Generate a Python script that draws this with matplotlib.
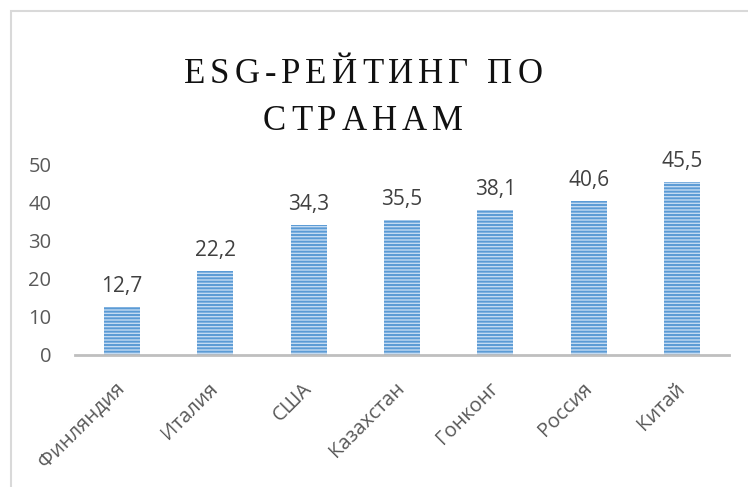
import matplotlib
matplotlib.use("Agg")
import matplotlib.pyplot as plt
from matplotlib.font_manager import FontProperties
from matplotlib.patches import Rectangle

countries = ["Финляндия", "Италия", "США", "Казахстан", "Гонконг", "Россия", "Китай"]
scores = [12.7, 22.2, 34.3, 35.5, 38.1, 40.6, 45.5]
score_labels = ["12,7", "22,2", "34,3", "35,5", "38,1", "40,6", "45,5"]
title_lines = ["ESG-РЕЙТИНГ ПО", "СТРАНАМ"]
yticks = [0, 10, 20, 30, 40, 50]

W, H = 748, 487
plt.rcParams['hatch.linewidth'] = 1.4

fig = plt.figure(figsize=(W / 100, H / 100), dpi=100)
ax = fig.add_axes([75 / W, 1 - 355 / H, 654 / W, 190 / H])

ax.bar(range(len(countries)), scores, width=0.385, color='#c4dbf2',
       edgecolor='#5b9bd5', linewidth=0, hatch='-----', zorder=2)

for i, (v, lab) in enumerate(zip(scores, score_labels)):
    ax.annotate(lab, (i, v), xytext=(0, 7), textcoords='offset points',
                ha='center', va='bottom', fontsize=15, color='#404040',
                family='Open Sans')

ax.set_xlim(-0.5, len(countries) - 0.5)
ax.set_ylim(0, 50)
ax.set_yticks(yticks)
ax.set_yticklabels([str(t) for t in yticks], fontsize=14.5, color='#595959',
                   family='Open Sans')
ax.set_xticks(range(len(countries)))
ax.set_xticklabels(countries, rotation=45, ha='right', va='center',
                   rotation_mode='anchor', fontsize=14.5, color='#595959',
                   family='Open Sans')
ax.tick_params(axis='both', length=0)
ax.tick_params(axis='y', pad=17)
ax.tick_params(axis='x', pad=22)
for s in ['left', 'right', 'top']:
    ax.spines[s].set_visible(False)
ax.spines['bottom'].set_color('#bfbfbf')
ax.spines['bottom'].set_linewidth(2)

# light frame of the chart area
fig.patches.append(Rectangle((10.5 / W, -0.2), 2, 1.2 - 11 / H, transform=fig.transFigure,
                             fill=False, edgecolor='#d9d9d9', lw=1.5))

# letter-spaced title
renderer = fig.canvas.get_renderer()
prop = FontProperties(family='Liberation Serif', size=25)
tracking = 5
for line, base in zip(title_lines, [83, 130]):
    widths = [renderer.get_text_width_height_descent(c, prop, ismath=False)[0]
              for c in line]
    total = sum(widths) + tracking * (len(line) - 1)
    x = 363 - total / 2
    for c, w in zip(line, widths):
        fig.text(x / W, 1 - base / H, c, fontproperties=prop, color='#111111',
                 ha='left', va='baseline')
        x += w + tracking

fig.savefig("out.png", dpi=100)
